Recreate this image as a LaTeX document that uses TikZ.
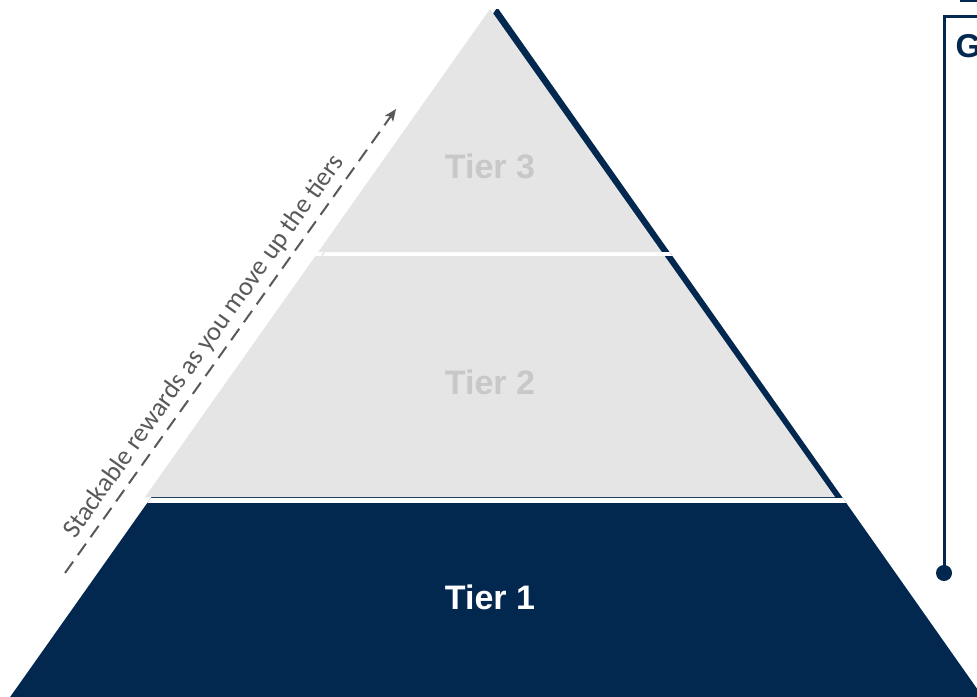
\documentclass[tikz,border=0pt]{standalone}
\usepackage{fontspec}
\setmainfont{Liberation Sans}
\newfontfamily\rewardfont{Carlito}
\usetikzlibrary{arrows.meta,calc}
\definecolor{tiernavy}{HTML}{03284F}
\definecolor{tiergray}{HTML}{E5E5E5}
\definecolor{tiergraytext}{HTML}{C8C8C8}
\definecolor{arrowgray}{HTML}{595959}

\tikzset{
    tierlabel/.style={font=\fontsize{34}{40}\selectfont\bfseries},
    rewardarrow/.style={arrowgray, line width=2pt, dash pattern=on 14pt off 8pt, -{Stealth[length=12pt,width=10pt,inset=3pt]}},
}

\begin{document}
\begin{tikzpicture}[x=1pt, y=-1pt]
    \useasboundingbox (0,0) rectangle (977,696);

    % Dark pyramid (Tier 1 and the edge behind the upper tiers)
    \fill[tiernavy] (496.3,9) -- (498.4,9) -- (985,700) -- (8,700) -- cycle;

    % White gaps between the tiers
    \begin{scope}
        \clip (496.3,9) -- (498.4,9) -- (985,700) -- (8,700) -- cycle;
        \fill[white] (0,252) rectangle (977,256);
        \fill[white] (0,497.5) rectangle (977,503);
    \end{scope}

    % Upper tiers
    \fill[tiergray] (490,9) -- (318.2,252) -- (661.8,252) -- cycle;
    \fill[tiergray] (315.4,256) -- (664.6,256) -- (835,497) -- (145,497) -- cycle;

    % Labels inside tiers
    \node[tierlabel, text=tiergraytext] (tier3) at (490,166) {Tier 3};
    \node[tierlabel, text=tiergraytext] (tier2) at (490,382) {Tier 2};
    \node[tierlabel, text=white] (tier1) at (490,597) {Tier 1};

    % Stackable rewards arrow
    \coordinate (rewardstart) at (65,573);
    \coordinate (rewardend) at (396,109);
    \draw[rewardarrow] (rewardstart) -- (rewardend)
        node[pos=0.465, sloped, anchor=south, inner xsep=0pt, inner ysep=6pt, text=arrowgray, font=\rewardfont\fontsize{26.5}{30}\selectfont] (rewardtext) {Stackable rewards as you move up the tiers};

    % Side bracket
    \coordinate (topleft) at (960,0.75);
    \coordinate (topright) at (977,0.75);
    \draw[tiernavy, line width=1.5pt] (topleft) -- (topright);
    \coordinate (bracketright) at (977,16);
    \coordinate (bracketcorner) at (944,16);
    \node[circle, fill=tiernavy, minimum size=16pt, inner sep=0pt] (bracketdot) at (944,573) {};
    \draw[tiernavy, line width=3pt] (bracketright) -- (bracketcorner) -- (bracketdot.center);
    \node[tierlabel, anchor=base west, text=tiernavy, font=\fontsize{33}{40}\selectfont\bfseries] (sidetitle) at (952,57) {G};
\end{tikzpicture}
\end{document}
